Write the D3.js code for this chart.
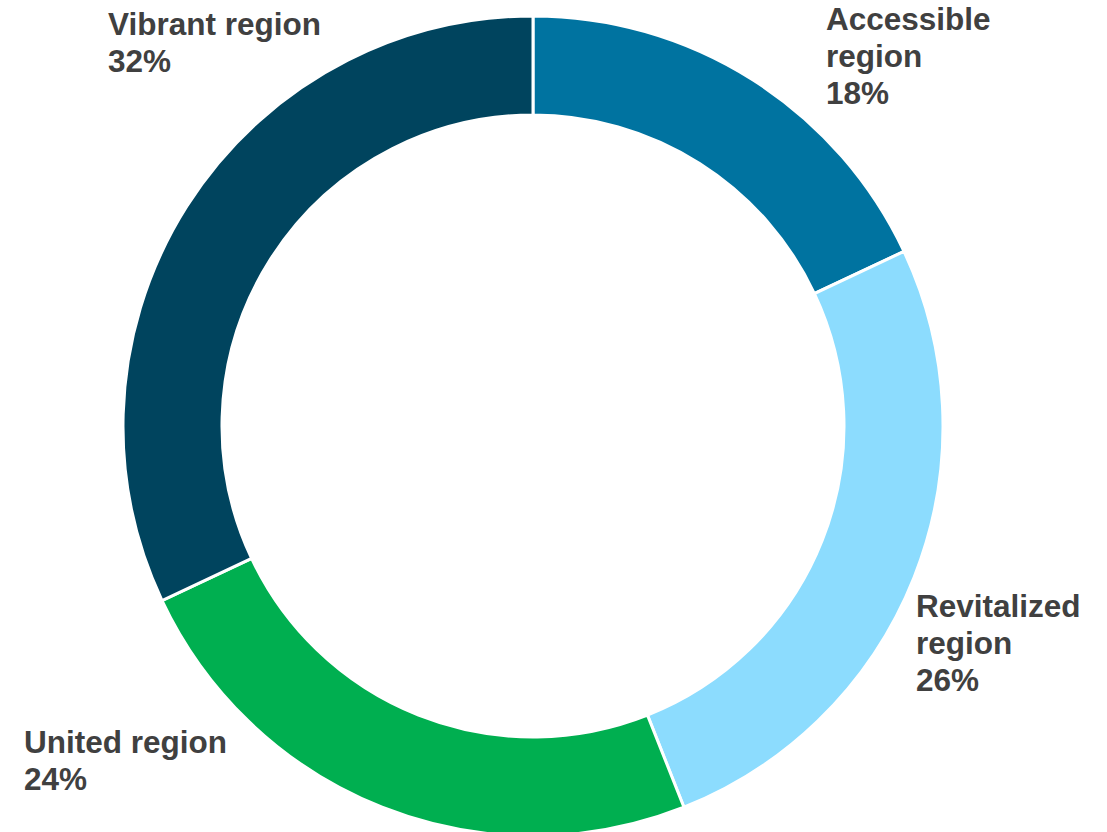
<!DOCTYPE html>
<html>
<head>
<meta charset="utf-8">
<script src="https://cdn.jsdelivr.net/npm/d3@7"></script>
<style>
    body { margin: 0; background: #fff; }
    svg { display: block; }
    .label { font-family: "Liberation Sans", Arial, sans-serif; font-weight: bold; font-size: 31.5px; fill: #404040; }
</style>
</head>
<body>
<svg id="chart"></svg>
<script>
// data
const categories = ['Accessible region', 'Revitalized region', 'United region', 'Vibrant region'];
const shares = [18, 26, 24, 32];
const colors = ['#0073a0', '#8cdcfe', '#00af50', '#00445e'];
// label lines as they wrap in the original
const labelLines = [
    ['Accessible', 'region', '18%'],
    ['Revitalized', 'region', '26%'],
    ['United region', '24%'],
    ['Vibrant region', '32%']
];

// layout
const width = 1107, height = 832;
const cx = 533, cy = 426;
const outerR = 410, innerR = 311;
const lineHeight = 37;
const labelPos = [
    { x: 826, y: 30 },
    { x: 916, y: 617 },
    { x: 24, y: 753 },
    { x: 108, y: 35 }
];

const svg = d3.select('#chart')
    .attr('width', width)
    .attr('height', height);

const chart = svg.append('g')
    .attr('transform', `translate(${cx},${cy})`);

const pie = d3.pie()
    .sort(null)
    .value(d => d);

const arc = d3.arc()
    .innerRadius(innerR)
    .outerRadius(outerR);

chart.selectAll('.slice')
    .data(pie(shares))
    .join('path')
    .attr('class', 'slice')
    .attr('d', arc)
    .attr('fill', (d, i) => colors[i])
    .attr('stroke', '#fff')
    .attr('stroke-width', 3);

// labels
const labels = svg.selectAll('.label')
    .data(categories)
    .join('text')
    .attr('class', 'label')
    .attr('x', (d, i) => labelPos[i].x)
    .attr('y', (d, i) => labelPos[i].y);

labels.selectAll('tspan')
    .data((d, i) => labelLines[i].map(t => ({ t, x: labelPos[i].x })))
    .join('tspan')
    .attr('x', d => d.x)
    .attr('dy', (d, j) => j === 0 ? 0 : lineHeight)
    .text(d => d.t);
</script>
</body>
</html>
